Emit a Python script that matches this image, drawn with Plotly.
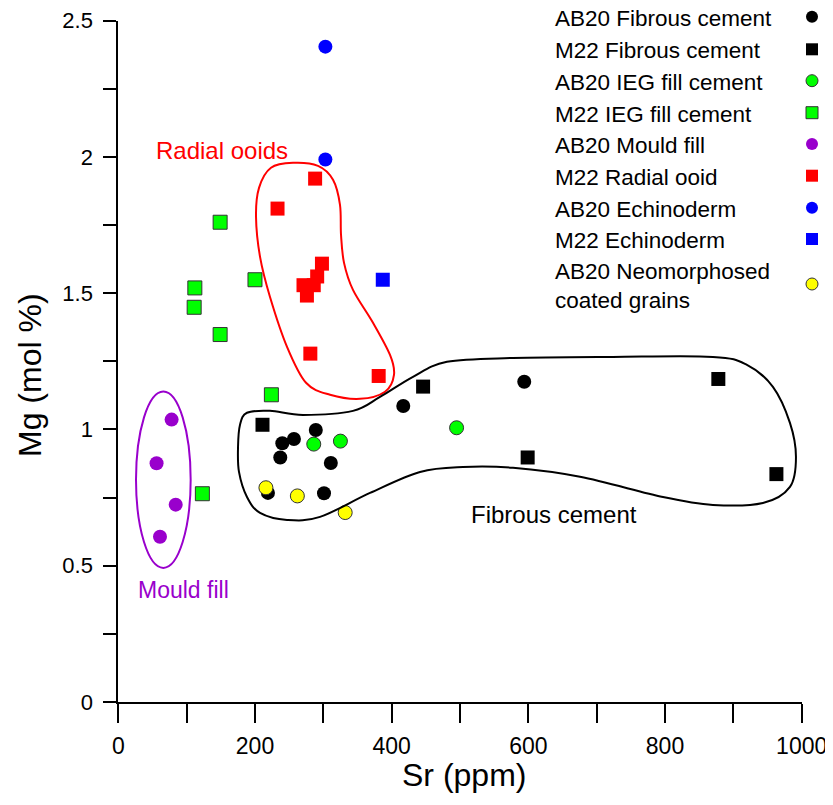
import plotly.graph_objects as go

# ---------------- data (Sr ppm, Mg mol %) ----------------
ab20_fib_sr = [219, 237, 240, 257, 289, 311, 301, 417, 594]
ab20_fib_mg = [0.767, 0.897, 0.949, 0.965, 0.998, 0.877, 0.766, 1.086, 1.175]

m22_fib_sr = [211, 446, 878, 599, 963]
m22_fib_mg = [1.017, 1.157, 1.185, 0.897, 0.836]

ab20_ieg_sr = [286, 325, 495]
ab20_ieg_mg = [0.946, 0.957, 1.006]

m22_ieg_sr = [149, 112, 111, 149, 200, 224, 123]
m22_ieg_mg = [1.760, 1.519, 1.448, 1.348, 1.549, 1.127, 0.764]

ab20_mould_sr = [78, 56, 84, 61]
ab20_mould_mg = [1.036, 0.876, 0.724, 0.606]

m22_ooid_sr = [288, 233, 298, 291, 271, 286, 276, 281, 381]
m22_ooid_mg = [1.920, 1.810, 1.608, 1.561, 1.529, 1.529, 1.491, 1.278, 1.196]

ab20_echi_sr = [303, 303]
ab20_echi_mg = [2.404, 1.990]

m22_echi_sr = [387]
m22_echi_mg = [1.549]

ab20_neo_sr = [216, 262, 332]
ab20_neo_mg = [0.786, 0.756, 0.695]

series_names = ["AB20 Fibrous cement", "M22 Fibrous cement", "AB20 IEG fill cement",
                "M22 IEG fill cement", "AB20 Mould fill", "M22 Radial ooid",
                "AB20 Echinoderm", "M22 Echinoderm", "AB20 Neomorphosed<br>coated grains"]

x_ticks = [0, 100, 200, 300, 400, 500, 600, 700, 800, 900, 1000]
x_ticktext = ["0", "", "200", "", "400", "", "600", "", "800", "", "1000"]
y_ticks = [0, 0.25, 0.5, 0.75, 1, 1.25, 1.5, 1.75, 2, 2.25, 2.5]
y_ticktext = ["0", "", "0.5", "", "1", "", "1.5", "", "2", "", "2.5"]

# group outlines (data units)
ooid_outline = [(255.6, 1.978), (292.2, 1.967), (314.2, 1.916), (324.4, 1.824), (325.9, 1.714),
                (330.3, 1.611), (343.4, 1.512), (372.7, 1.391), (397.6, 1.273), (403.4, 1.200),
                (390.3, 1.138), (353.7, 1.112), (309.8, 1.127), (274.7, 1.171), (246.9, 1.303),
                (222.0, 1.486), (207.4, 1.633), (201.5, 1.780), (205.9, 1.886), (223.4, 1.960)]
fib_outline = [(175.2, 0.936), (178.1, 1.017), (188.3, 1.061), (221.9, 1.068), (270.3, 1.053),
               (343.4, 1.068), (382.9, 1.119), (431.2, 1.193), (480.9, 1.248), (577.5, 1.262),
               (723.8, 1.266), (870.1, 1.266), (919.9, 1.237), (957.9, 1.156), (982.8, 1.024),
               (991.6, 0.899), (982.8, 0.789), (943.3, 0.730), (870.1, 0.723), (797.0, 0.752),
               (675.6, 0.826), (577.5, 0.859), (504.4, 0.862), (441.5, 0.844), (368.3, 0.767),
               (295.2, 0.679), (246.9, 0.668), (207.4, 0.694), (188.3, 0.752), (176.6, 0.844)]
mould_ellipse = (25.9, 0.492, 105.9, 1.139)


def closed_spline_path(pts):
    n = len(pts)
    d = "M %.2f,%.4f" % pts[0]
    for i in range(n):
        p0 = pts[(i - 1) % n]
        p1 = pts[i]
        p2 = pts[(i + 1) % n]
        p3 = pts[(i + 2) % n]
        c1 = (p1[0] + (p2[0] - p0[0]) / 6, p1[1] + (p2[1] - p0[1]) / 6)
        c2 = (p2[0] - (p3[0] - p1[0]) / 6, p2[1] - (p3[1] - p1[1]) / 6)
        d += " C %.2f,%.4f %.2f,%.4f %.2f,%.4f" % (c1 + c2 + p2)
    return d + " Z"


FONT = "Liberation Sans, Arial, sans-serif"
OUT = "#333333"
styles = [
    dict(symbol="circle", color="#000000", line=dict(width=0)),
    dict(symbol="square", color="#000000", line=dict(width=0)),
    dict(symbol="circle", color="#00ff00", line=dict(width=1, color=OUT)),
    dict(symbol="square", color="#00ff00", line=dict(width=1, color=OUT)),
    dict(symbol="circle", color="#9900cc", line=dict(width=0)),
    dict(symbol="square", color="#ff0000", line=dict(width=0)),
    dict(symbol="circle", color="#0000ff", line=dict(width=0)),
    dict(symbol="square", color="#0000ff", line=dict(width=0)),
    dict(symbol="circle", color="#ffff00", line=dict(width=1, color=OUT)),
]
series = [(ab20_fib_sr, ab20_fib_mg), (m22_fib_sr, m22_fib_mg), (ab20_ieg_sr, ab20_ieg_mg),
          (m22_ieg_sr, m22_ieg_mg), (ab20_mould_sr, ab20_mould_mg), (m22_ooid_sr, m22_ooid_mg),
          (ab20_echi_sr, ab20_echi_mg), (m22_echi_sr, m22_echi_mg), (ab20_neo_sr, ab20_neo_mg)]

# page is 833x805; the html body has an 8px margin, so the figure starts at (8, 8)
OFF = 8
W, H = 833 - OFF, 805 - OFF
PL, PR, PT, PB = 118.3, 801.7, 20.5, 702.0   # plot-area edges in page pixels

fig = go.Figure()
for name, (xs, ys), st in zip(series_names, series, styles):
    fig.add_trace(go.Scatter(x=xs, y=ys, mode="markers", name=name.replace("<br>", " "),
                             showlegend=False, cliponaxis=False,
                             marker=dict(size=14, **st)))

# custom legend (markers to the right of the text) on a full-page helper axis (page pixels)
leg_rows = [16.7, 49.3, 80.7, 112.7, 144, 175.7, 207.7, 239, 284]
for name, st, ry in zip(series_names, styles, leg_rows):
    fig.add_trace(go.Scatter(x=[812], y=[ry], mode="markers", xaxis="x2", yaxis="y2",
                             showlegend=False, cliponaxis=False, hoverinfo="skip",
                             marker=dict(size=12, **st)))
    fig.add_annotation(x=553, y=ry + 1.5, xref="x2", yref="y2", text=name, showarrow=False,
                       xanchor="left", yanchor="middle", align="left",
                       font=dict(family=FONT, size=22.5, color="#000000"))

shapes = [
    dict(type="path", path=closed_spline_path(ooid_outline), xref="x", yref="y",
         line=dict(color="#ff0000", width=2)),
    dict(type="path", path=closed_spline_path(fib_outline), xref="x", yref="y",
         line=dict(color="#000000", width=2)),
    dict(type="circle", x0=mould_ellipse[0], y0=mould_ellipse[1], x1=mould_ellipse[2],
         y1=mould_ellipse[3], xref="x", yref="y", line=dict(color="#9900cc", width=2)),
]

fig.add_annotation(x=221.7, y=150, xref="x2", yref="y2", text="Radial ooids", showarrow=False,
                   font=dict(family=FONT, size=24, color="#ff0000"))
fig.add_annotation(x=183, y=590, xref="x2", yref="y2", text="Mould fill", showarrow=False,
                   font=dict(family=FONT, size=23, color="#9900cc"))
fig.add_annotation(x=553.7, y=514, xref="x2", yref="y2", text="Fibrous cement", showarrow=False,
                   font=dict(family=FONT, size=24, color="#000000"))
fig.add_annotation(x=30, y=375, xref="x2", yref="y2", text="Mg (mol %)", showarrow=False,
                   textangle=-90, font=dict(family=FONT, size=32, color="#000000"))
fig.add_annotation(x=464, y=775, xref="x2", yref="y2", text="Sr (ppm)", showarrow=False,
                   font=dict(family=FONT, size=32, color="#000000"))

fig.update_layout(
    width=W, height=H,
    margin=dict(l=0, r=0, t=0, b=0, pad=0),
    paper_bgcolor="white", plot_bgcolor="rgba(0,0,0,0)",
    showlegend=False,
    shapes=shapes,
    xaxis=dict(domain=[(PL - OFF) / W, (PR - OFF) / W], range=[0, 1000], automargin=False,
               tickmode="array", tickvals=x_ticks, ticktext=x_ticktext,
               ticks="outside", ticklen=19, tickwidth=1.5, tickcolor="black",
               showline=True, linecolor="black", linewidth=2, showgrid=False, zeroline=False,
               tickfont=dict(family=FONT, size=23, color="black"), ticklabelstandoff=3,
               ticklabeloverflow="allow"),
    yaxis=dict(domain=[(H + OFF - PB) / H, (H + OFF - PT) / H], range=[0, 2.5], automargin=False,
               tickmode="array", tickvals=y_ticks, ticktext=y_ticktext,
               ticks="outside", ticklen=13, tickwidth=1.5, tickcolor="black",
               showline=True, linecolor="black", linewidth=2, showgrid=False, zeroline=False,
               tickfont=dict(family=FONT, size=22, color="black"), ticklabelstandoff=6,
               ticklabeloverflow="allow"),
    xaxis2=dict(domain=[0, 1], range=[OFF, OFF + W], anchor="y2", visible=False, fixedrange=True),
    yaxis2=dict(domain=[0, 1], range=[OFF + H, OFF], anchor="x2", visible=False, fixedrange=True),
)

fig.write_html("out.html")
